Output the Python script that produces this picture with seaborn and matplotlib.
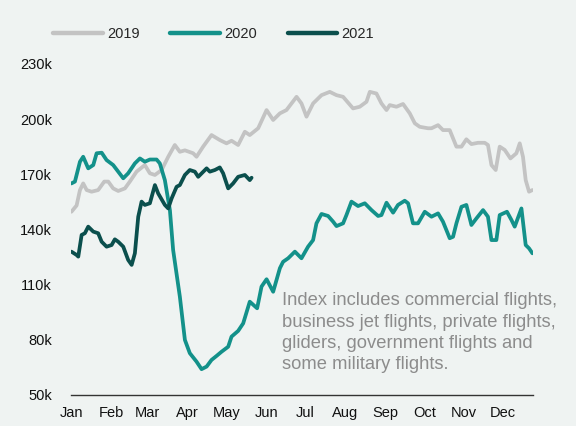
import numpy as np
import pandas as pd
import matplotlib
matplotlib.use("Agg")
import matplotlib.pyplot as plt
import seaborn as sns

# day of year / daily flights (thousands)
days_2019 = [0, 4, 6.6, 9.1, 11.8, 15.6, 20.7, 25.4, 28.5, 32.3, 36.2, 41.4, 45.2, 50.4, 56.8, 60.7,
             64.6, 69.8, 74.9, 80, 83.9, 87.8, 94.2, 96.8, 101.9, 108.4, 114.8, 120, 123.9, 129, 134.2,
             138, 144.5, 151, 156.1, 161.3, 166.4, 170.3, 174.2, 178, 181.9, 187, 193.5, 199.9, 205.1,
             210.2, 217.9, 223.1, 228.3, 230.9, 236, 239.9, 243.8, 246.3, 251.5, 256.6, 261.8, 265.7,
             269.5, 275.9, 278.6, 283.7, 287.5, 292.7, 297.9, 301.8, 305.6, 309.5, 314.6, 319.8, 322.3,
             325, 328.3, 331.4, 335.3, 339.7, 344.3, 346.9, 349.4, 351.5, 354.1, 356.7]
vals_2019 = [149.6, 153, 161.4, 165, 161.4, 160.5, 161.4, 166, 166, 162.3, 160.9, 162.3, 166, 171.4,
             175, 170.5, 169.6, 172.3, 179.5, 185.9, 182.2, 183, 181.4, 179.5, 185, 191.3, 188.6, 186.8,
             188.2, 185.9, 193.1, 191.3, 195, 204.9, 199.5, 203.1, 204.9, 208.5, 212.1, 208.5, 201.3,
             208.5, 213, 214.8, 213, 212.1, 205.8, 206.7, 209.4, 214.8, 213.9, 208.5, 204.9, 207.6,
             206.7, 208.2, 203.1, 197.7, 195.8, 195, 195, 196.7, 194, 194, 185, 185, 189, 186.4, 187.1,
             187.1, 185.9, 175, 172.3, 185, 183.2, 178.6, 181.4, 186.8, 179.5, 166.8, 160.5, 161.4]

days_2020 = [0, 2.7, 6.6, 9.1, 13, 16.9, 19.5, 23.4, 27.2, 32.3, 36.2, 40.1, 43.9, 49.1, 53, 56.8,
             60.7, 65.9, 68.4, 72.3, 76.2, 78.7, 83.9, 87.8, 91.6, 96.8, 100.7, 104.6, 108.4, 112.3,
             116.2, 121.3, 123.9, 129, 132.9, 138, 143.7, 147.1, 151, 156.1, 161.3, 163.8, 167.7, 172.9,
             178, 183.1, 187, 189.6, 193.5, 198.6, 202.5, 205.1, 210.2, 212.8, 216.7, 221.8, 227, 232.2,
             237.3, 239.9, 243.8, 248.9, 252.7, 257.9, 260.5, 264.3, 268.2, 273.4, 278.6, 283.7, 287.5,
             292.7, 295.3, 297.9, 301.8, 305.6, 309.5, 313.4, 318.5, 322.3, 325, 328.8, 331.4, 337,
             340.5, 343, 348.2, 351.5, 354.1, 356.7]
vals_2020 = [165, 166, 176.8, 179.5, 173.2, 175, 181.4, 181.7, 177.7, 175, 171.4, 167.8, 170.5, 175.9,
             178.6, 176.8, 178, 178, 175.9, 166.8, 150.5, 128.8, 103.4, 79.9, 72.7, 68.1, 64, 65.4, 69,
             71.2, 73.5, 76.2, 81.7, 84.8, 88.9, 100.7, 97.1, 108.9, 112.9, 106.1, 118.9, 122.4, 124.3,
             127.9, 124.3, 130.6, 134.2, 143.3, 148.4, 147.3, 144.2, 141.8, 143.3, 147.8, 155.1, 152.7,
             154.2, 150.5, 147.3, 147.8, 154.5, 149.1, 153.3, 155.6, 154.2, 143.3, 143.3, 149.6, 146.9,
             148.7, 144.2, 135.2, 136, 143.3, 152.3, 153.3, 142.4, 146, 150.5, 146.9, 134.2, 134.2,
             147.8, 149.6, 145.1, 141.5, 151.4, 131.5, 129.7, 127]

days_2021 = [0, 4, 5.3, 7.9, 10.4, 13, 16.9, 20.7, 23.4, 27.2, 31.1, 33.6, 36.2, 40.1, 43.9, 46.6,
             49.1, 51.7, 54.3, 56.8, 60.7, 64.6, 67.1, 72.3, 74.9, 77.5, 81.4, 83.9, 87.8, 91.6, 95.5,
             98.1, 104.6, 107.1, 111, 114.8, 117.4, 121.3, 125.1, 129, 134.2, 138, 139.4]
vals_2021 = [127.9, 126.1, 125.2, 137, 137.9, 141.5, 138.8, 137.9, 133.3, 130.6, 131.5, 134.6, 133.3,
             130.6, 123.4, 120.7, 127, 146.9, 155.1, 153.3, 154.2, 164.1, 159.6, 153.3, 151.4, 156.8,
             163.2, 164.1, 169.6, 172.3, 171.4, 168.6, 173.2, 171.4, 172.3, 173.7, 170.5, 162.3, 165,
             168.6, 169.6, 166.8, 168.1]

month_starts = [0, 31, 59, 90, 120, 151, 181, 212, 243, 273, 304, 334]
month_labels = ["Jan", "Feb", "Mar", "Apr", "May", "Jun", "Jul", "Aug", "Sep", "Oct", "Nov", "Dec"]
y_ticks = [50, 80, 110, 140, 170, 200, 230]

note = ("Index includes commercial flights,\nbusiness jet flights, private flights,\n"
        "gliders, government flights and\nsome military flights.")

df = pd.concat([
    pd.DataFrame({"day": days_2019, "flights": vals_2019, "year": "2019"}),
    pd.DataFrame({"day": days_2020, "flights": vals_2020, "year": "2020"}),
    pd.DataFrame({"day": days_2021, "flights": vals_2021, "year": "2021"}),
])

bg = "#eff3f2"
sns.set_style("white")
plt.rcParams["font.family"] = ["Liberation Sans", "DejaVu Sans"]

fig = plt.figure(figsize=(5.76, 4.26), dpi=100, facecolor=bg)
ax = fig.add_axes([0.124, 0.073, 0.801, 0.777], facecolor=bg)

palette = {"2019": "#c3c3c3", "2020": "#13918a", "2021": "#0b4f4d"}
sns.lineplot(data=df, x="day", y="flights", hue="year", palette=palette,
             estimator=None, sort=False, linewidth=2.7, ax=ax)
for line in ax.get_lines():
    line.set_solid_joinstyle("round")
    line.set_solid_capstyle("round")

ax.set_xlim(0, 357)
ax.set_ylim(50, 230)
ax.set_xticks(month_starts)
ax.set_xticklabels(month_labels)
ax.set_yticks(y_ticks)
ax.set_yticklabels([f"{v}k" for v in y_ticks])
ax.tick_params(axis="both", length=0, labelsize=10.5, colors="#111111")
ax.tick_params(axis="x", pad=8)
ax.tick_params(axis="y", pad=14)
ax.set_xlabel("")
ax.set_ylabel("")
for s in ["top", "right", "left"]:
    ax.spines[s].set_visible(False)
ax.spines["bottom"].set_color("#333333")
ax.spines["bottom"].set_linewidth(1.0)

ax.text(0.456, 0.31, note, transform=ax.transAxes, ha="left", va="top",
        fontsize=13.2, color="#8c8c8c", linespacing=1.33)

leg = ax.legend(loc="center left", bbox_to_anchor=(-0.068, 1.09), ncol=3, frameon=False,
                fontsize=10.5, handlelength=3.4, columnspacing=2.1, handletextpad=0.3)
for line in leg.get_lines():
    line.set_linewidth(3.2)
    line.set_solid_capstyle("round")

fig.savefig("out.png", dpi=100, facecolor=bg)
